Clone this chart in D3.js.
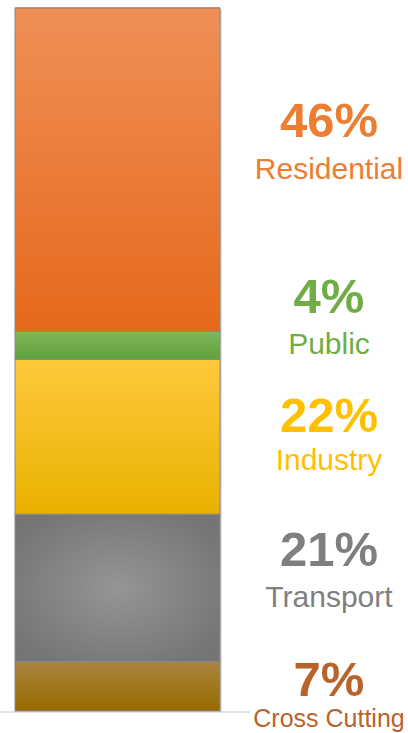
<!DOCTYPE html>
<html>
<head>
<meta charset="utf-8">
<script src="https://cdn.jsdelivr.net/npm/d3@7"></script>
<style>
  body { margin: 0; background: #fff; }
  svg { display: block; }
</style>
</head>
<body>
<script>
// Share of emissions by sector, stacked bottom to top
const sectors = ["Cross Cutting", "Transport", "Industry", "Public", "Residential"];
const shares = [7, 21, 22, 4, 46];
const shareLabels = ["7%", "21%", "22%", "4%", "46%"];

// colours per sector: [top of gradient, bottom of gradient], text colour
const fillTop = ["#a9843e", "#959595", "#ffc83c", "#80b75c", "#f08f58"];
const fillBottom = ["#976b00", "#757575", "#e9b200", "#61a13a", "#e5691a"];
const textColor = ["#b8632c", "#7f7f7f", "#ffc000", "#70ad47", "#ed7d31"];

// label baselines (layout only)
const pctY = [696, 566, 432, 313, 137];
const nameY = [727, 607, 470, 354, 179];
const nameSize = [25, 30, 30, 30, 30];

const W = 408, H = 733;
const bar = { x: 15, w: 205, top: 8, bottom: 711 };

const svg = d3.select("body").append("svg")
  .attr("width", W)
  .attr("height", H);

const y = d3.scaleLinear()
  .domain([0, d3.sum(shares)])
  .range([bar.bottom, bar.top]);

// cumulative stack
const stacked = [];
let acc = 0;
shares.forEach((v, i) => {
  stacked.push({ name: sectors[i], y0: acc, y1: acc + v, i });
  acc += v;
});

const defs = svg.append("defs");
stacked.forEach(d => {
  if (d.name === "Transport") {
    const g = defs.append("radialGradient")
      .attr("id", "grad" + d.i)
      .attr("cx", "50%").attr("cy", "50%").attr("r", "60%");
    g.append("stop").attr("offset", "0%").attr("stop-color", fillTop[d.i]);
    g.append("stop").attr("offset", "100%").attr("stop-color", fillBottom[d.i]);
  } else {
    const g = defs.append("linearGradient")
      .attr("id", "grad" + d.i)
      .attr("x1", 0).attr("y1", 0).attr("x2", 0).attr("y2", 1);
    g.append("stop").attr("offset", "0%").attr("stop-color", fillTop[d.i]);
    g.append("stop").attr("offset", "100%").attr("stop-color", fillBottom[d.i]);
  }
});

// baseline
svg.append("line")
  .attr("x1", 0).attr("x2", 250)
  .attr("y1", y(0) + 1).attr("y2", y(0) + 1)
  .attr("stroke", "#dde4ec")
  .attr("stroke-width", 2);

// right edge shadow
svg.append("rect")
  .attr("x", bar.x + bar.w)
  .attr("y", y(d3.sum(shares)) + 1)
  .attr("width", 1.5)
  .attr("height", y(0) - y(d3.sum(shares)))
  .attr("fill", "#c8c8c8");

svg.selectAll("rect.seg")
  .data(stacked)
  .enter()
  .append("rect")
  .attr("class", "seg")
  .attr("x", bar.x)
  .attr("y", d => y(d.y1))
  .attr("width", bar.w)
  .attr("height", d => y(d.y0) - y(d.y1))
  .attr("fill", d => `url(#grad${d.i})`)
  .attr("stroke", "#8a8a8a")
  .attr("stroke-width", 1);

// top edge tinted line
svg.append("line")
  .attr("x1", bar.x).attr("x2", bar.x + bar.w)
  .attr("y1", y(d3.sum(shares))).attr("y2", y(d3.sum(shares)))
  .attr("stroke", "#c07f60")
  .attr("stroke-width", 1.5);

const labelX = 329;
const labels = svg.selectAll("g.lbl")
  .data(stacked)
  .enter()
  .append("g")
  .attr("class", "lbl");

labels.append("text")
  .attr("x", labelX)
  .attr("y", d => pctY[d.i])
  .attr("text-anchor", "middle")
  .style("font-family", "Liberation Sans, Arial, sans-serif")
  .style("font-weight", "bold")
  .style("font-size", "49px")
  .attr("fill", d => textColor[d.i])
  .text(d => shareLabels[d.i]);

labels.append("text")
  .attr("x", labelX)
  .attr("y", d => nameY[d.i])
  .attr("text-anchor", "middle")
  .style("font-family", "Liberation Sans, Arial, sans-serif")
  .style("font-size", d => nameSize[d.i] + "px")
  .attr("fill", d => textColor[d.i])
  .text(d => d.name);
</script>
</body>
</html>
